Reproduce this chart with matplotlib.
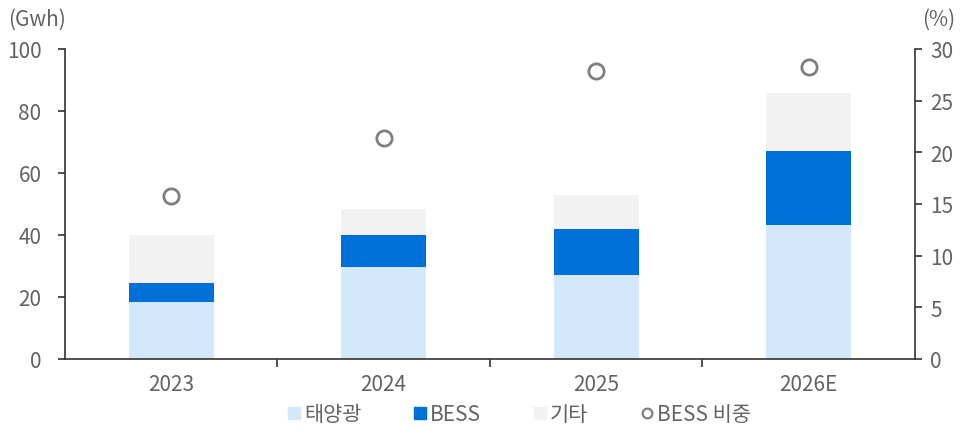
import matplotlib.pyplot as plt
from matplotlib.lines import Line2D
import numpy as np

plt.rcParams['font.family'] = ['Noto Sans CJK KR', 'DejaVu Sans']

years = ['2023', '2024', '2025', '2026E']
solar = [18.4, 29.7, 27.1, 43.2]
bess = [6.1, 10.3, 14.8, 23.9]
other = [15.5, 8.4, 11.0, 18.7]
bess_share = [15.8, 21.4, 27.9, 28.3]

c_solar = '#D4E8FC'
c_bess = '#0070D9'
c_other = '#F2F2F2'
c_text = '#636363'

fig = plt.figure(figsize=(9.63, 4.31), dpi=100)
ax = fig.add_axes([0.0675, 0.165, 0.8825, 0.719])
ax2 = ax.twinx()

x = np.arange(len(years))
w = 0.4
b1 = np.array(solar)
b2 = b1 + np.array(bess)
ax.bar(x, solar, w, color=c_solar, zorder=2)
ax.bar(x, bess, w, bottom=b1, color=c_bess, zorder=2)
ax.bar(x, other, w, bottom=b2, color=c_other, zorder=2)

ax2.plot(x, bess_share, 'o', ms=11, mfc='white', mec='#7F7F7F', mew=2, ls='none')

ax.set_xlim(-0.5, 3.5)
ax.set_ylim(0, 100)
ax2.set_ylim(0, 30)
ax.set_yticks(range(0, 101, 20))
ax2.set_yticks(range(0, 31, 5))

ax.set_xticks(x)
ax.set_xticklabels(years)
ax.set_xticks(x[:-1] + 0.5, minor=True)
ax.tick_params(axis='x', which='major', length=0, pad=10, labelsize=15, labelcolor=c_text)
ax.tick_params(axis='x', which='minor', length=6, width=1.2, color='#333333')
ax.tick_params(axis='y', length=5, width=1.2, color='#333333', labelsize=15, labelcolor=c_text, pad=12)
ax2.tick_params(axis='y', length=5, width=1.2, color='#333333', labelsize=15, labelcolor=c_text, pad=6)

for a in (ax, ax2):
    a.spines['top'].set_visible(False)
    for s in ('left', 'right', 'bottom'):
        a.spines[s].set_color('#333333')
        a.spines[s].set_linewidth(1.2)
ax.spines['right'].set_visible(False)
ax2.spines['left'].set_visible(False)
ax2.spines['bottom'].set_visible(False)

fig.text(0.008, 0.955, '(Gwh)', fontsize=15, color=c_text, va='center', ha='left')
fig.text(0.992, 0.955, '(%)', fontsize=15, color=c_text, va='center', ha='right')

handles = [
    Line2D([], [], marker='s', ls='none', ms=8, mfc=c_solar, mec=c_solar),
    Line2D([], [], marker='s', ls='none', ms=8, mfc=c_bess, mec=c_bess),
    Line2D([], [], marker='s', ls='none', ms=8, mfc=c_other, mec=c_other),
    Line2D([], [], marker='o', ls='none', ms=7, mfc='white', mec='#7F7F7F', mew=1.6),
]
labels = ['태양광', 'BESS', '기타', 'BESS 비중']
fig.legend(handles, labels, loc='center', bbox_to_anchor=(0.537, 0.037), ncol=4,
           frameon=False, fontsize=15, labelcolor=c_text, handletextpad=0.0,
           columnspacing=2.3, handlelength=1.0)

fig.savefig('out.png', dpi=100)
